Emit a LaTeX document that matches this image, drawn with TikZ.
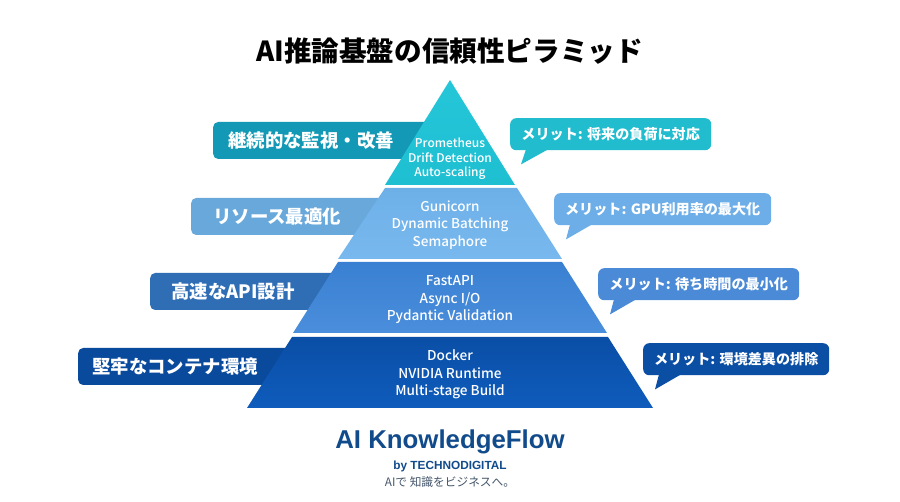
\documentclass[tikz,border=0pt]{standalone}
\usepackage{fontspec}
\setmainfont{Noto Sans CJK JP}
\newfontfamily\medfont{Noto Sans CJK JP Medium}
\newfontfamily\logofont{Liberation Sans}
\usepackage{tikz}
\usetikzlibrary{positioning,calc}
\definecolor{tieraT}{HTML}{24C6D8}
\definecolor{tieraB}{HTML}{1FBFD2}
\definecolor{tierbT}{HTML}{6DB0E8}
\definecolor{tierbB}{HTML}{78B8EE}
\definecolor{tiercT}{HTML}{3A80D2}
\definecolor{tiercB}{HTML}{4A8EDC}
\definecolor{tierdT}{HTML}{0A4EA6}
\definecolor{tierdB}{HTML}{0F5CBC}
\definecolor{bara}{HTML}{1399B5}
\definecolor{barb}{HTML}{69A8DB}
\definecolor{barc}{HTML}{2F6DB5}
\definecolor{bard}{HTML}{0A4A9C}
\definecolor{notea}{HTML}{22BCCF}
\definecolor{noteb}{HTML}{6DAEE8}
\definecolor{notec}{HTML}{4A8AD6}
\definecolor{noted}{HTML}{0B4FA5}
\definecolor{logoblue}{HTML}{114B8C}
\definecolor{subgray}{HTML}{44566C}
\tikzstyle{bar} = [rectangle, rounded corners=5pt, text=white, anchor=west, minimum height=37pt,
inner xsep=15pt, inner ysep=0pt, align=left, font=\fontsize{18.4}{20}\selectfont\bfseries]
\tikzstyle{note} = [rectangle, rounded corners=6pt, text=white, anchor=north west, minimum height=32pt,
inner sep=0pt, font=\fontsize{14.1}{16}\selectfont\bfseries]
\tikzstyle{tiertext} = [text=white, align=center, inner sep=0pt]
\begin{document}
\begin{tikzpicture}[x=1pt, y=-1pt]
\useasboundingbox (0,0) rectangle (900,502);
\fill [white] (0,0) rectangle (900,502);
% Place title
\node [font=\fontsize{27.6}{30}\selectfont\bfseries, inner sep=0pt] (title) at (449.5,51) {AI推論基盤の信頼性ピラミッド};
% Place bars
\node [bar, fill=bara, text width=197pt] (bara) at (213,140.5) {継続的な監視・改善};
\node [bar, fill=barb, text width=163pt] (barb) at (191,216.5) {\hspace{7pt}リソース最適化};
\node [bar, fill=barc, text width=165pt] (barc) at (150,291.5) {\hspace{6pt}高速なAPI設計};
\node [bar, fill=bard, text width=197pt, inner xsep=14pt] (bard) at (78,366.5) {堅牢なコンテナ環境};
% Place pyramid
\shade [top color=tieraT, bottom color=tieraB] (450,80) -- (515,185) -- (385,185) -- cycle;
\shade [top color=tierbT, bottom color=tierbB] (385,188) -- (517,188) -- (562,259) -- (338,259) -- cycle;
\shade [top color=tiercT, bottom color=tiercB] (338,262) -- (562,262) -- (607,333) -- (293,333) -- cycle;
\shade [top color=tierdT, bottom color=tierdB] (292,337) -- (608,337) -- (653,408) -- (247,408) -- cycle;
\node [tiertext, font=\fontsize{12}{14.6}\medfont] (tiera) at (450,159) {Prometheus\\Drift Detection\\Auto-scaling};
\node [tiertext, font=\fontsize{13.5}{17.6}\medfont] (tierb) at (450,225) {Gunicorn\\Dynamic Batching\\Semaphore};
\node [tiertext, font=\fontsize{13.6}{17.5}\medfont] (tierc) at (450,300) {FastAPI\\Async I/O\\Pydantic Validation};
\node [tiertext, font=\fontsize{13.6}{17.5}\medfont] (tierd) at (450,374.5) {Docker\\NVIDIA Runtime\\Multi-stage Build};
% Place notes
\node [note, fill=notea, minimum width=201pt] (notea) at (510,118) {メリット: 将来の負荷に対応};
\node [note, fill=noteb, minimum width=217pt] (noteb) at (554,193) {メリット: GPU利用率の最大化};
\node [note, fill=notec, minimum width=201pt] (notec) at (598,268) {メリット: 待ち時間の最小化};
\node [note, fill=noted, minimum width=186pt] (noted) at (643,343) {メリット: 環境差異の排除};
% Draw tails
\fill [notea] ($(notea.south west)+(16,-1)$) -- ($(notea.south west)+(11,14)$) -- ($(notea.south west)+(38,-1)$) -- cycle;
\fill [noteb] ($(noteb.south west)+(16,-1)$) -- ($(noteb.south west)+(12,14)$) -- ($(noteb.south west)+(38,-1)$) -- cycle;
\fill [notec] ($(notec.south west)+(16,-1)$) -- ($(notec.south west)+(12,14)$) -- ($(notec.south west)+(38,-1)$) -- cycle;
\fill [noted] ($(noted.south west)+(16,-1)$) -- ($(noted.south west)+(12,14)$) -- ($(noted.south west)+(38,-1)$) -- cycle;
% Place logo
\node [text=logoblue, inner sep=0pt, font=\logofont\fontsize{25.8}{28}\selectfont\bfseries] (logo) at (450,442) {AI KnowledgeFlow};
\node [text=logoblue, inner sep=0pt, below=6.5pt of logo, font=\logofont\fontsize{11.8}{13}\selectfont\bfseries] (byline) {by TECHNODIGITAL};
\node [text=subgray, inner sep=0pt, below=4pt of byline, font=\fontsize{11.7}{14}\selectfont] (slogan) {AIで 知識をビジネスへ。};
\end{tikzpicture}
\end{document}
